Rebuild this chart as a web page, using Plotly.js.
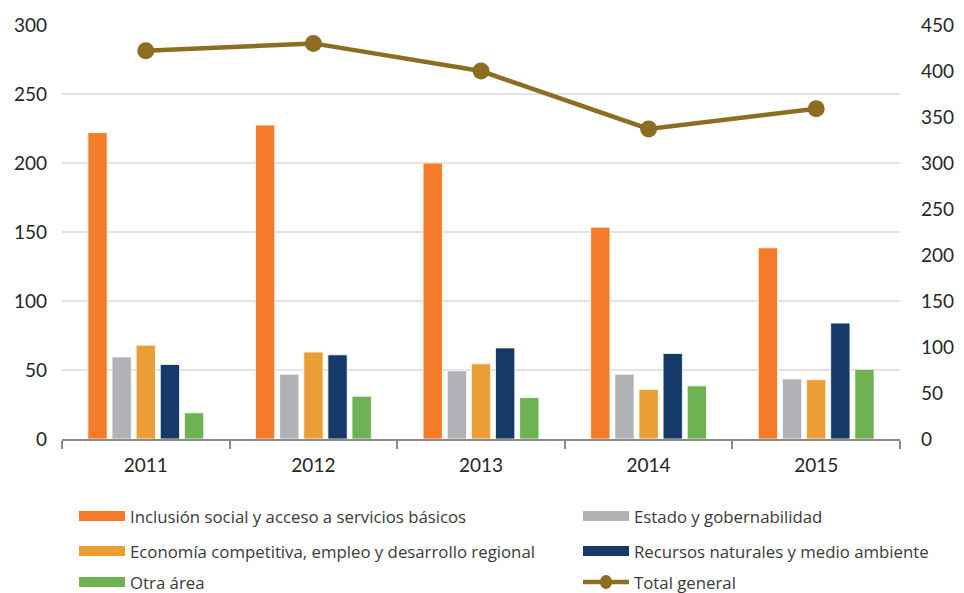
<!DOCTYPE html>
<html>
<head>
<meta charset="utf-8">
<script src="https://cdn.plot.ly/plotly-3.0.1.min.js"></script>
<style>html,body{margin:0;padding:0;background:#fff;}#chart{width:964px;height:593px;}</style>
</head>
<body>
<div id="chart"></div>
<script>
// ---- data ----
const years = ["2011", "2012", "2013", "2014", "2015"];
const seriesNames = [
  "Inclusión social y acceso a servicios básicos",
  "Estado y gobernabilidad",
  "Economía competitiva, empleo y desarrollo regional",
  "Recursos naturales y medio ambiente",
  "Otra área"
];
const inclusion = [222, 227.5, 200, 153.5, 138.5];
const estado = [59.5, 47, 49.5, 47, 43.5];
const economia = [68, 63, 54.5, 36, 43];
const recursos = [54, 61, 66, 62, 84];
const otra = [19, 31, 30, 38.5, 50.5];
const lineName = "Total general";
const totalGeneral = [422, 430, 400, 337, 359];
const leftTicks = [0, 50, 100, 150, 200, 250, 300];
const rightTicks = [0, 50, 100, 150, 200, 250, 300, 350, 400, 450];

// ---- styles ----
const barColors = ["#F47B2A", "#B1B2B5", "#EB9D36", "#163A68", "#6FB253"];
const lineColor = "#8C6D22";
const FONT = "Lato, 'Open Sans', sans-serif";
const LEGFONT = "'Open Sans', Lato, sans-serif";

const barValues = [inclusion, estado, economia, recursos, otra];
const traces = barValues.map((vals, i) => ({
  type: "bar",
  name: seriesNames[i],
  x: years,
  y: vals,
  marker: {color: barColors[i], line: {color: "#ffffff", width: 0.8}},
  yaxis: "y",
  showlegend: false,
  hoverinfo: "x+y+name"
}));
traces.push({
  type: "scatter",
  mode: "lines+markers",
  name: lineName,
  x: years,
  y: totalGeneral,
  yaxis: "y2",
  line: {color: lineColor, width: 4.5},
  marker: {color: lineColor, size: 17},
  showlegend: false
});

// ---- manual legend (paper coords) ----
const M = {l: 62, r: 64, t: 25, b: 154};
const W = 964, H = 593;
const pw = W - M.l - M.r, ph = H - M.t - M.b;
const px = x => (x - M.l) / pw;
const py = y => (H - M.b - y) / ph;

const legendItems = seriesNames.map((n, i) => ({name: n, color: barColors[i], kind: "bar"}));
legendItems.push({name: lineName, color: lineColor, kind: "line"});
const colX = [79, 583];
const rowY = [516, 551, 582];
const shapes = [];
const annotations = [];
legendItems.forEach((it, k) => {
  const cx = colX[k % 2], cy = rowY[Math.floor(k / 2)];
  if (it.kind === "bar") {
    shapes.push({type: "rect", xref: "paper", yref: "paper",
      x0: px(cx), x1: px(cx + 46), y0: py(cy + 5), y1: py(cy - 5),
      fillcolor: it.color, line: {width: 0}});
  } else {
    shapes.push({type: "line", xref: "paper", yref: "paper",
      x0: px(cx), x1: px(cx + 46), y0: py(cy), y1: py(cy),
      line: {color: it.color, width: 4.5}});
    shapes.push({type: "circle", xref: "paper", yref: "paper",
      x0: px(cx + 17), x1: px(cx + 29), y0: py(cy + 7), y1: py(cy - 7),
      fillcolor: it.color, line: {width: 0}});
  }
  annotations.push({xref: "paper", yref: "paper", x: px(cx + 49), y: py(cy),
    xanchor: "left", yanchor: "middle", showarrow: false, text: it.name,
    font: {family: LEGFONT, size: 16.8, color: "#3a3a3a"}});
});

const layout = {
  width: W, height: H,
  margin: M,
  paper_bgcolor: "#ffffff", plot_bgcolor: "#ffffff",
  font: {family: FONT, color: "#262626"},
  barmode: "group",
  bargap: 0.28,
  bargroupgap: 0.2,
  showlegend: false,
  xaxis: {
    type: "category",
    tickson: "boundaries",
    ticks: "outside", ticklen: 8, tickwidth: 2, tickcolor: "#8a8a8a",
    showline: true, linecolor: "#8a8a8a", linewidth: 2,
    showgrid: false,
    tickfont: {family: FONT, size: 19, color: "#262626"},
    ticklabelstandoff: 8
  },
  yaxis: {
    range: [0, 300],
    tickvals: leftTicks,
    showgrid: true, gridcolor: "#e3e3e3", gridwidth: 1.5,
    zeroline: false, showline: false, ticks: "",
    tickfont: {family: FONT, size: 19, color: "#262626"},
    ticklabelstandoff: 14
  },
  yaxis2: {
    overlaying: "y", side: "right",
    range: [0, 450],
    tickvals: rightTicks,
    showgrid: false, zeroline: false, showline: false, ticks: "",
    tickfont: {family: FONT, size: 19, color: "#262626"},
    ticklabelstandoff: 20
  },
  shapes: shapes,
  annotations: annotations
};

Plotly.newPlot("chart", traces, layout, {displayModeBar: false, staticPlot: true});
</script>
</body>
</html>
